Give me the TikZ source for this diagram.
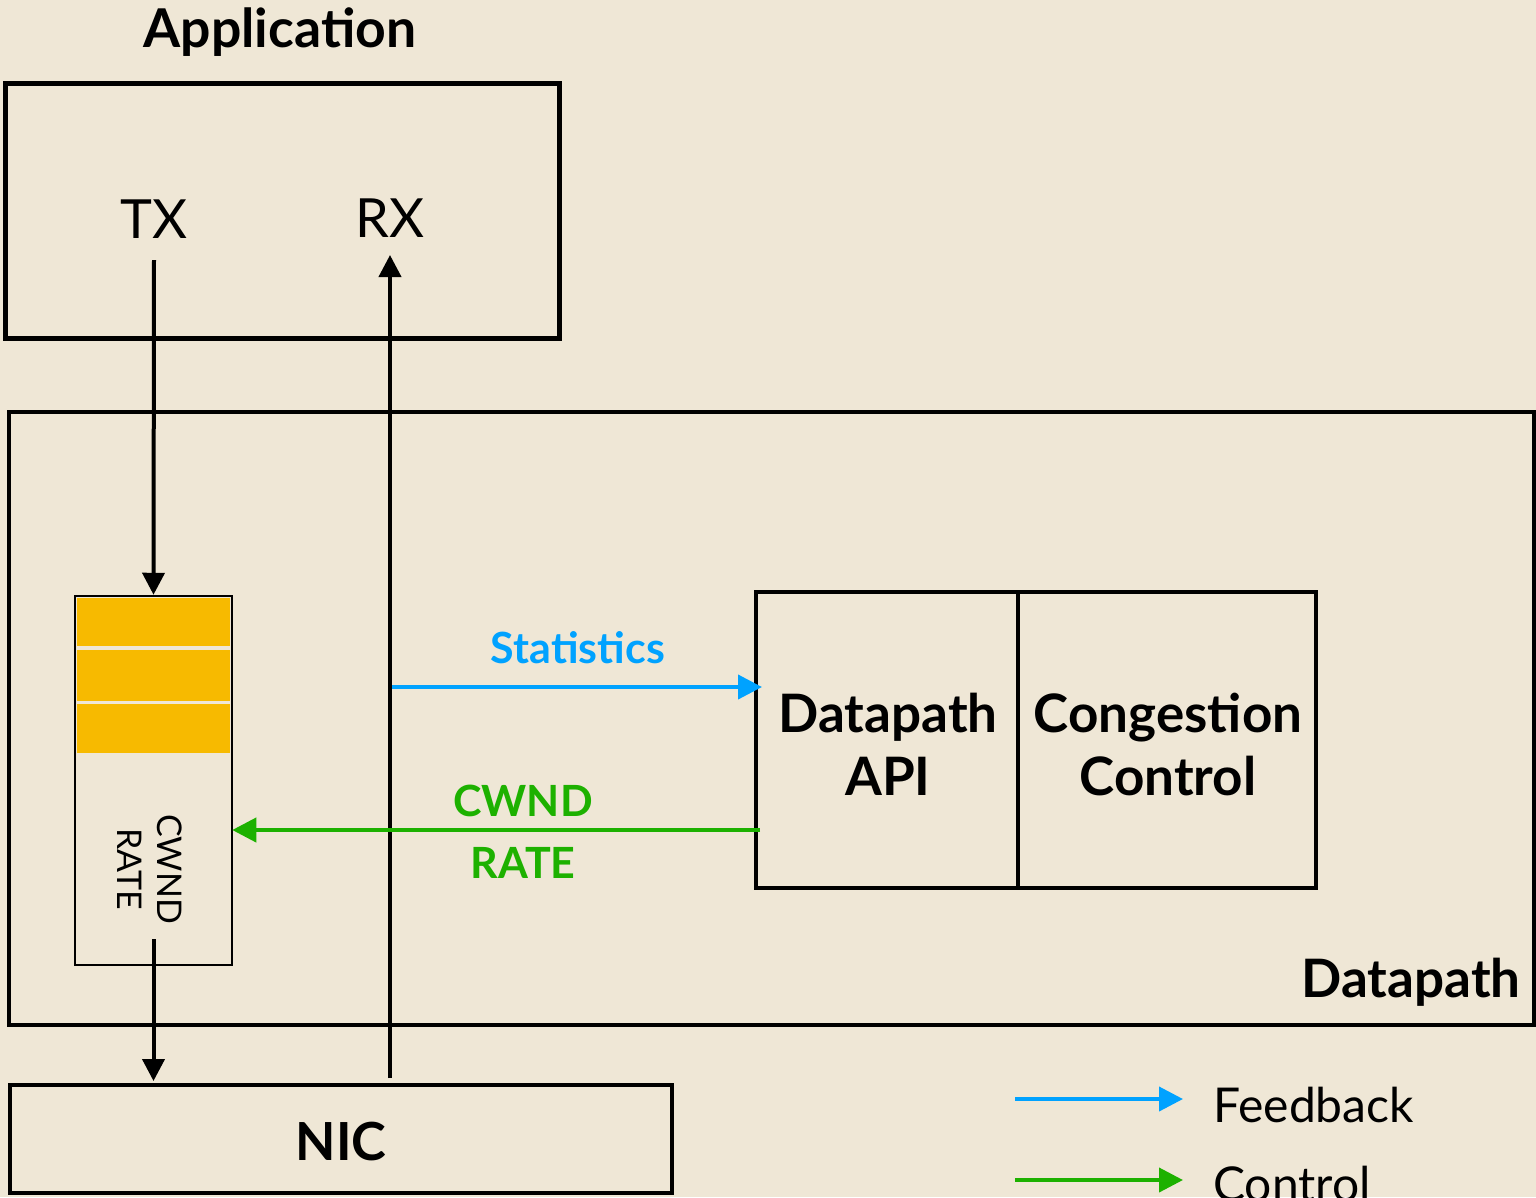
\documentclass[tikz,border=0pt]{standalone}
\usepackage{fontspec}
\setmainfont{Lato}
\usetikzlibrary{arrows.meta,calc}
\definecolor{bgc}{RGB}{239,231,214}
\definecolor{qyel}{RGB}{247,186,0}
\definecolor{fbblue}{RGB}{0,162,255}
\definecolor{ctgreen}{RGB}{29,177,0}
\tikzset{
  box/.style={draw=black, rectangle, inner sep=0pt},
  txt/.style={inner sep=0pt, anchor=base},
  blkarr/.style={line width=4pt, -{Triangle[length=22pt,width=22pt]}},
  bluearr/.style={draw=fbblue, line width=4pt, -{Triangle[length=24pt,width=24pt]}},
  greenarr/.style={draw=ctgreen, line width=4pt, -{Triangle[length=24pt,width=24pt]}},
}
\begin{document}
\begin{tikzpicture}[x=1pt,y=-1pt]
\fill[bgc] (0,0) rectangle (1536,1197);
\useasboundingbox (0,0) rectangle (1536,1197);

% Application
\node[txt, font=\fontsize{53.5}{60}\selectfont\bfseries] (apptitle) at (280,47) {Application};
\node[box, line width=5pt, minimum width=554pt, minimum height=255pt] (app) at (282,210.5) {};
\node[txt, font=\fontsize{54}{60}\selectfont] (tx) at (154,238) {TX};
\node[txt, font=\fontsize{54}{60}\selectfont] (rx) at (390,237) {RX};

% Datapath
\node[box, line width=4pt, minimum width=1525pt, minimum height=613pt] (dp) at (771.5,718.5) {};
\node[txt, font=\fontsize{53}{60}\selectfont\bfseries] (dplabel) at (1411,997) {Datapath};

% Queue
\node[box, line width=2.5pt, minimum width=157pt, minimum height=369pt] (queue) at (153.5,780.5) {};
\fill[qyel] (77,598) rectangle (230,646);
\fill[qyel] (77,649.5) rectangle (230,701);
\fill[qyel] (77,703.5) rectangle (230,753);
\node[inner sep=0pt, rotate=-90, align=center, font=\fontsize{34}{40}\selectfont] (qlabel) at (150,869) {CWND\\RATE};

% API / CC
\node[box, line width=4pt, minimum width=262pt, minimum height=296pt] (api) at (887,740) {};
\node[box, line width=4pt, minimum width=298pt, minimum height=296pt] (cc) at (1167,740) {};
\node[txt, align=center, font=\fontsize{53}{63}\selectfont\bfseries] (apitxt) at (888,795) {Datapath\\API};
\node[txt, align=center, font=\fontsize{53}{63}\selectfont\bfseries] (cctxt) at (1168,795) {Congestion\\Control};

% NIC
\node[box, line width=4pt, minimum width=662pt, minimum height=108pt] (nic) at (341,1139) {};
\node[txt, font=\fontsize{52.5}{60}\selectfont\bfseries] (nictxt) at (341,1160) {NIC};

% Black arrows
\draw[blkarr] ($(tx.base)+(0,22)$) -- (queue.north);
\draw[blkarr] ($(queue.south)+(0,-27)$) -- ($(queue.south |- nic.north)+(0,-2)$);
\draw[blkarr] ($(rx.base |- nic.north)+(0,-5)$) -- ($(rx.base)+(0,18)$);

% Statistics
\coordinate (statstart) at (392,687);
\draw[bluearr] (statstart) -- ($(api.west |- statstart)+(8,0)$);
\node[txt, text=fbblue, font=\fontsize{43}{48}\selectfont\bfseries] (stattxt) at (578,663) {Statistics};

% Control
\coordinate (ctlstart) at (760,830);
\draw[greenarr] (ctlstart) -- ($(queue.east |- ctlstart)+(-1,0)$);
\node[txt, text=ctgreen, font=\fontsize{43}{48}\selectfont\bfseries] (cwndtxt) at (523,816) {CWND};
\node[txt, text=ctgreen, font=\fontsize{43}{48}\selectfont\bfseries] (ratetxt) at (523,878) {RATE};

% Legend
\coordinate (fba) at (1015,1099);
\coordinate (fbb) at (1183,1099);
\coordinate (cta) at (1015,1180);
\coordinate (ctb) at (1183,1180);
\draw[bluearr] (fba) -- (fbb);
\draw[greenarr] (cta) -- (ctb);
\node[inner sep=0pt, anchor=base west, font=\fontsize{48}{54}\selectfont] (fbtxt) at (1213,1122) {Feedback};
\node[inner sep=0pt, anchor=base west, font=\fontsize{48}{54}\selectfont] (cttxt) at (1213,1201) {Control};
\end{tikzpicture}
\end{document}
